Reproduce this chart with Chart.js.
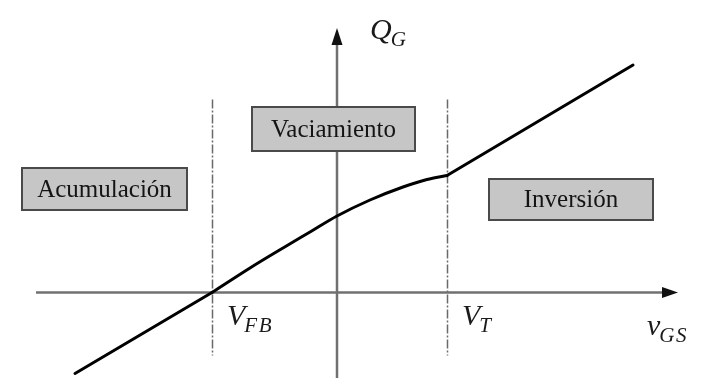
<!DOCTYPE html>
<html>
<head>
<meta charset="utf-8">
<title>Carga de puerta Q_G frente a v_GS</title>
<script src="https://cdn.jsdelivr.net/npm/chart.js@4.4.0/dist/chart.umd.min.js"></script>
<style>
  html, body { margin: 0; padding: 0; background: #ffffff; }
  #wrap { width: 715px; height: 378px; }
</style>
</head>
<body>
<div id="wrap"><canvas id="qg" width="715" height="378"></canvas></div>
<script>
// Gate charge Q_G versus gate-source voltage v_GS (arbitrary units)
const regionLabels = ['Acumulación', 'Vaciamiento', 'Inversión'];
const thresholdNames = [['V', 'FB'], ['V', 'T']];
const thresholdValues = [-2.5, 2.2];          // V_FB, V_T
const axisNames = { x: ['v', 'GS'], y: ['Q', 'G'] };

// accumulation: straight line up to V_FB
const accumV = [-5.24, -2.5];
const accumQ = [-1.62, 0];
// depletion: bending curve between V_FB and V_T
const depletionV = [-2.5, -1.74, -1.08, -0.54, 0, 0.66, 1.32, 1.8, 2.2];
const depletionQ = [0, 0.49, 0.89, 1.21, 1.53, 1.85, 2.11, 2.26, 2.34];
// inversion: straight line beyond V_T
const inversionV = [2.2, 5.92];
const inversionQ = [2.34, 4.55];

const pairs = (xs, ys) => xs.map((x, i) => ({ x, y: ys[i] }));

const serif = "'Liberation Serif', 'DejaVu Serif', serif";
const axisColor = '#707070';

// where each region tag sits (centre, in data units) and its box size in px
const regionBoxes = [
  { x: -4.65, y: 2.06, w: 165, h: 42 },
  { x: -0.07, y: 3.27, w: 163, h: 44 },
  { x: 4.68, y: 1.86, w: 164, h: 41 }
];

function drawSymbol(ctx, parts, px, py) {
  ctx.save();
  ctx.fillStyle = '#1a1a1a';
  ctx.textBaseline = 'alphabetic';
  ctx.textAlign = 'left';
  ctx.font = 'italic 30px ' + serif;
  ctx.fillText(parts[0], px, py);
  const w = ctx.measureText(parts[0]).width;
  ctx.font = 'italic 21px ' + serif;
  ctx.letterSpacing = '1.5px';
  ctx.fillText(parts[1], px + w - 1, py + 7);
  ctx.restore();
}

const diagramPlugin = {
  id: 'mosDiagram',
  beforeDatasetsDraw(chart) {
    const { ctx } = chart;
    const xs = chart.scales.x, ys = chart.scales.y;
    const x0 = xs.getPixelForValue(0), y0 = ys.getPixelForValue(0);

    // dash-dot boundaries at V_FB and V_T
    ctx.save();
    ctx.strokeStyle = '#6a6a6a';
    ctx.lineWidth = 1.5;
    ctx.setLineDash([9, 2, 2, 2]);
    thresholdValues.forEach(v => {
      const px = Math.round(xs.getPixelForValue(v)) + 0.5;
      ctx.beginPath();
      ctx.moveTo(px, ys.getPixelForValue(3.86));
      ctx.lineTo(px, ys.getPixelForValue(-1.26));
      ctx.stroke();
    });
    ctx.restore();

    // axes
    ctx.save();
    ctx.strokeStyle = axisColor;
    ctx.lineWidth = 2.5;
    const xEnd = xs.getPixelForValue(6.82);
    const yTop = ys.getPixelForValue(5.29);
    ctx.beginPath();
    ctx.moveTo(xs.getPixelForValue(-6.02), y0);
    ctx.lineTo(xEnd - 10, y0);
    ctx.stroke();
    ctx.beginPath();
    ctx.moveTo(x0, chart.height);
    ctx.lineTo(x0, yTop + 10);
    ctx.stroke();
    // arrow heads
    ctx.fillStyle = '#111111';
    ctx.beginPath();
    ctx.moveTo(xEnd, y0);
    ctx.lineTo(xEnd - 16, y0 - 5.5);
    ctx.lineTo(xEnd - 16, y0 + 5.5);
    ctx.closePath();
    ctx.fill();
    ctx.beginPath();
    ctx.moveTo(x0, yTop);
    ctx.lineTo(x0 - 5.5, yTop + 17);
    ctx.lineTo(x0 + 5.5, yTop + 17);
    ctx.closePath();
    ctx.fill();
    ctx.restore();

    // region tags
    ctx.save();
    regionBoxes.forEach((b, i) => {
      const cx = xs.getPixelForValue(b.x), cy = ys.getPixelForValue(b.y);
      const left = Math.round(cx - b.w / 2), top = Math.round(cy - b.h / 2);
      ctx.fillStyle = '#c6c6c6';
      ctx.fillRect(left, top, b.w, b.h);
      ctx.strokeStyle = '#4a4a4a';
      ctx.lineWidth = 2;
      ctx.strokeRect(left, top, b.w, b.h);
      ctx.fillStyle = '#141414';
      ctx.font = '25px ' + serif;
      ctx.textAlign = 'center';
      ctx.textBaseline = 'middle';
      ctx.fillText(regionLabels[i], cx, cy + 1);
    });
    ctx.restore();

    // axis and threshold symbols
    drawSymbol(ctx, axisNames.y, x0 + 33, ys.getPixelForValue(5.07));
    drawSymbol(ctx, axisNames.x, xs.getPixelForValue(6.2), ys.getPixelForValue(-0.85));
    thresholdValues.forEach((v, i) => {
      drawSymbol(ctx, thresholdNames[i], xs.getPixelForValue(v) + 15, ys.getPixelForValue(-0.65));
    });
  }
};

const lineStyle = {
  borderColor: '#000000',
  borderWidth: 3,
  pointRadius: 0,
  borderCapStyle: 'round',
  borderJoinStyle: 'round',
  fill: false,
  clip: false
};

new Chart(document.getElementById('qg'), {
  type: 'line',
  data: {
    datasets: [
      Object.assign({ label: regionLabels[0], data: pairs(accumV, accumQ), tension: 0 }, lineStyle),
      Object.assign({ label: regionLabels[1], data: pairs(depletionV, depletionQ), cubicInterpolationMode: 'monotone' }, lineStyle),
      Object.assign({ label: regionLabels[2], data: pairs(inversionV, inversionQ), tension: 0 }, lineStyle)
    ]
  },
  options: {
    responsive: false,
    animation: false,
    layout: { padding: 0 },
    plugins: { legend: { display: false }, tooltip: { enabled: false } },
    scales: {
      x: { type: 'linear', min: -6.74, max: 7.56, display: false },
      y: { type: 'linear', min: -1.71, max: 5.85, display: false }
    }
  },
  plugins: [diagramPlugin]
});
</script>
</body>
</html>
